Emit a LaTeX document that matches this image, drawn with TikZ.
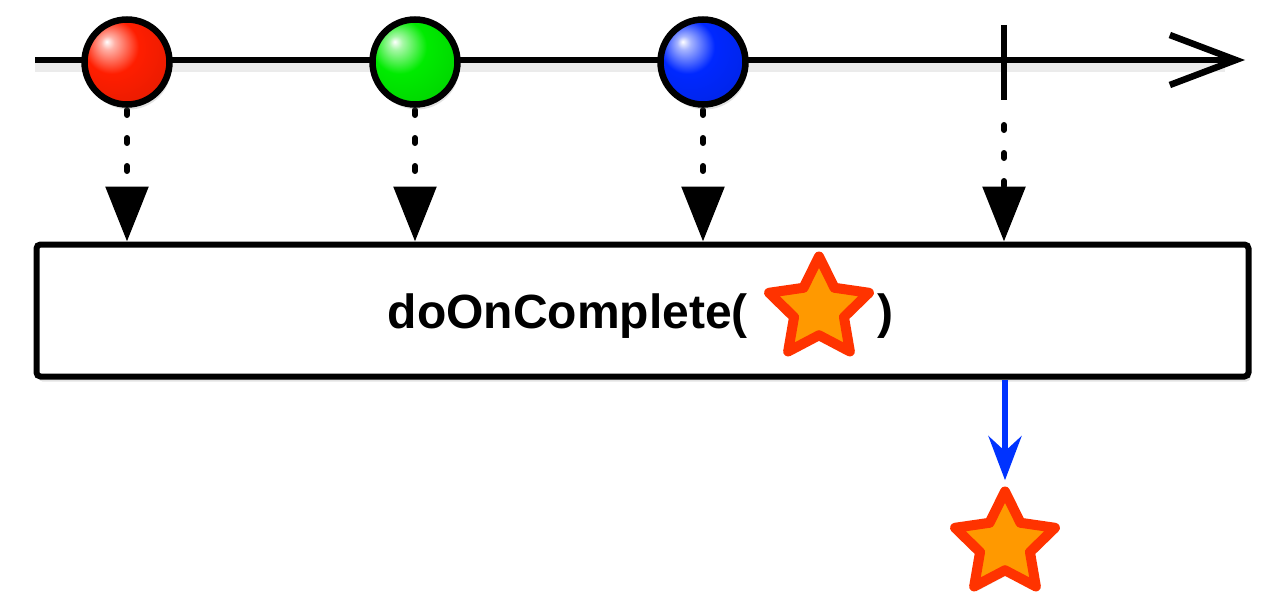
\documentclass[tikz,border=0pt]{standalone}
\usepackage{fontspec}
\setmainfont{Liberation Sans}
\usetikzlibrary{arrows.meta,shapes.geometric,shadows}
\definecolor{starline}{RGB}{255,51,0}
\definecolor{starfill}{RGB}{255,153,0}
\definecolor{evblue}{RGB}{0,51,255}
\definecolor{ballred}{RGB}{255,30,0}
\definecolor{ballgreen}{RGB}{0,235,0}
\definecolor{ballblue}{RGB}{0,40,255}
\pgfdeclareradialshading{redball}{\pgfpoint{-12bp}{12bp}}{color(0bp)=(white); color(4bp)=(ballred!35!white); color(16bp)=(ballred); color(36bp)=(ballred!90!black); color(50bp)=(ballred!65!black); color(66bp)=(ballred!45!black)}
\pgfdeclareradialshading{greenball}{\pgfpoint{-12bp}{12bp}}{color(0bp)=(white); color(4bp)=(ballgreen!35!white); color(16bp)=(ballgreen); color(36bp)=(ballgreen!90!black); color(50bp)=(ballgreen!65!black); color(66bp)=(ballgreen!45!black)}
\pgfdeclareradialshading{blueball}{\pgfpoint{-12bp}{12bp}}{color(0bp)=(white); color(4bp)=(ballblue!35!white); color(16bp)=(ballblue); color(36bp)=(ballblue!90!black); color(50bp)=(ballblue!65!black); color(66bp)=(ballblue!45!black)}
\begin{document}
\begin{tikzpicture}[x=1pt,y=-1pt,
  softshadow/.style={drop shadow={opacity=0.22,shadow xshift=2pt,shadow yshift=-5pt}},
  timeline/.style={line width=6.5pt,black,-{Straight Barb[length=66pt,width=50pt,line width=6.5pt]}},
  lineshadow/.style={line width=9pt,black,opacity=0.08},
  ball/.style={circle,draw=black,line width=6.5pt,minimum size=85pt,inner sep=0pt,shading=#1,softshadow},
  tickmark/.style={line width=6.5pt,black},
  dotarrow/.style={line width=6pt,line cap=round,dash pattern=on 5pt off 23pt,
    -{Triangle[length=55pt,width=42pt,line cap=butt,line join=miter]}},
  opbox/.style={draw=black,fill=white,line width=6pt,rounded corners=4pt,
    minimum width=1212pt,minimum height=132pt,inner sep=0pt,softshadow},
  lbl/.style={inner sep=0pt,font=\fontsize{48}{58}\selectfont\bfseries},
  starshape/.style={star,star points=5,star point ratio=2.0,minimum size=105pt,inner sep=0pt,
    draw=starline,fill=starfill,line width=10pt,line join=round},
  bluearrow/.style={evblue,line width=6pt,-{Stealth[length=44pt,width=33pt,inset=15pt]}}
]
\useasboundingbox (0,0) rectangle (1280,610);

% operator box
\node[opbox] (box) at (642.5,310.5) {};
\node[lbl,anchor=base east] (txt) at (748,328) {doOnComplete(};
\node[starshape] (s1) at (819,309) {};
\node[lbl,anchor=base west] (rp) at (877,328) {)};

% timeline
\coordinate (tl0) at (35,60);
\coordinate (tl1) at (1245,60);
\coordinate (sh0) at (35,68);
\coordinate (sh1) at (1225,68);
\draw[lineshadow] (sh0) -- (sh1);
\draw[timeline] (tl0) -- (tl1);

% completion tick
\coordinate (tktop) at (1004,25);
\coordinate (tkbot) at (1004,100);
\draw[tickmark] (tktop) -- (tkbot);

% dotted arrows (drawn before balls)
\coordinate (rs) at (127,110);
\coordinate (gs) at (415,110);
\coordinate (bs) at (703,110);
\coordinate (ts) at (1004,125);
\draw[dotarrow] (rs) -- (rs |- box.north);
\draw[dotarrow] (gs) -- (gs |- box.north);
\draw[dotarrow] (bs) -- (bs |- box.north);
\draw[dotarrow] (ts) -- (ts |- box.north);

% balls
\node[ball=redball] (r) at (127,62) {};
\node[ball=greenball] (g) at (415,62) {};
\node[ball=blueball] (b) at (703,62) {};

% emitted star
\node[starshape,softshadow] (s2) at (1005,544) {};
\draw[bluearrow] (box.south -| s2) -- (s2.north);
\end{tikzpicture}
\end{document}
